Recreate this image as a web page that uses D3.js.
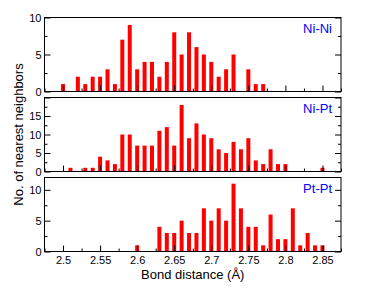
<!DOCTYPE html>
<html>
<head>
<meta charset="utf-8">
<script src="https://cdn.jsdelivr.net/npm/d3@7"></script>
<style>
  body { margin: 0; background: #fff; }
  svg { display: block; font-family: "Liberation Sans", Arial, sans-serif; }
</style>
</head>
<body>
<svg id="chart" width="385" height="298"></svg>
<script>
// bond distance bins (Å)
var bins = [2.50, 2.51, 2.52, 2.53, 2.54, 2.55, 2.56, 2.57, 2.58, 2.59,
            2.60, 2.61, 2.62, 2.63, 2.64, 2.65, 2.66, 2.67, 2.68, 2.69,
            2.70, 2.71, 2.72, 2.73, 2.74, 2.75, 2.76, 2.77, 2.78, 2.79,
            2.80, 2.81, 2.82, 2.83, 2.84, 2.85];

var niNi = [1, 0, 2, 1, 2, 2, 3, 1, 7, 9,
            3, 4, 4, 2, 4, 8, 5, 8, 6, 5,
            4, 2, 3, 5, 0, 3, 1, 1, 0, 0,
            0, 0, 0, 0, 0, 0];

var niPt = [0, 1, 0, 1, 1, 4, 3, 2, 10, 10,
            7, 7, 7, 11, 12, 7, 18, 9, 13, 10,
            9, 6, 5, 8, 6, 9, 3, 2, 6, 2,
            2, 0, 0, 0, 0, 1];

var ptPt = [0, 0, 0, 0, 0, 0, 0, 0, 0, 0,
            1, 0, 0, 4, 3, 3, 5, 3, 3, 7,
            5, 7, 5, 11, 7, 4, 4, 1, 6, 2,
            2, 7, 1, 3, 1, 1];

var panelNames = ['Ni-Ni', 'Ni-Pt', 'Pt-Pt'];
var panelMax = [10, 20, 12];
var yMajor = [[0, 5, 10], [0, 5, 10, 15, 20], [0, 5, 10]];
var yLabels = [[0, 5, 10], [0, 5, 10, 15], [0, 5, 10]];
var yMinor = [[2.5, 7.5], [2.5, 7.5, 12.5, 17.5], [2.5, 7.5]];
var xMajor = [2.5, 2.55, 2.6, 2.65, 2.7, 2.75, 2.8, 2.85];
var xMinor = [2.475, 2.525, 2.575, 2.625, 2.675, 2.725, 2.775, 2.825, 2.875];

var series = [niNi, niPt, ptPt];

var left = 44.5, right = 341;
var tops = [17.5, 97.5, 177.5];
var panelH = 74;

var svg = d3.select('#chart');

var x = d3.scaleLinear()
  .domain([2.475, 2.875])
  .range([left, right]);

series.forEach(function(vals, p) {
  var top = tops[p], bottom = top + panelH;
  var y = d3.scaleLinear().domain([0, panelMax[p]]).range([bottom, top]);
  var g = svg.append('g');

  // bars
  g.selectAll('rect.bar')
    .data(bins.map(function(b, i) { return { d: b, v: vals[i] }; }).filter(function(o) { return o.v > 0; }))
    .enter()
    .append('rect')
    .attr('class', 'bar')
    .attr('x', function(o) { return x(o.d) - 2; })
    .attr('y', function(o) { return y(o.v); })
    .attr('width', 4)
    .attr('height', function(o) { return bottom - y(o.v); })
    .attr('fill', '#ff0000');

  // left axis, ticks pointing in
  g.append('g').attr('transform', 'translate(' + left + ',0)')
    .call(d3.axisLeft(y).tickValues(yMajor[p]).tickSize(-6).tickPadding(3)
      .tickFormat(function(d) { return yLabels[p].indexOf(d) >= 0 ? d : ''; }));
  g.append('g').attr('transform', 'translate(' + left + ',0)')
    .call(d3.axisLeft(y).tickValues(yMinor[p]).tickSize(-3).tickFormat(''));

  // right axis mirror
  g.append('g').attr('transform', 'translate(' + right + ',0)')
    .call(d3.axisRight(y).tickValues(yMajor[p]).tickSize(-6).tickFormat(''));
  g.append('g').attr('transform', 'translate(' + right + ',0)')
    .call(d3.axisRight(y).tickValues(yMinor[p]).tickSize(-3).tickFormat(''));

  // bottom ticks
  g.append('g').attr('transform', 'translate(0,' + bottom + ')')
    .call(d3.axisBottom(x).tickValues(xMajor).tickSize(-6).tickPadding(5)
      .tickFormat(function(d) { return p === 2 ? String(d) : ''; }));
  g.append('g').attr('transform', 'translate(0,' + bottom + ')')
    .call(d3.axisBottom(x).tickValues(xMinor).tickSize(-3).tickFormat(''));

  g.selectAll('.domain').remove();
  g.selectAll('.tick line').attr('stroke', '#000');
  g.selectAll('.tick text').attr('font-size', 11).attr('fill', '#000')
    .style('font-family', '"Liberation Sans", Arial, sans-serif');

  // frame
  g.append('rect')
    .attr('x', left).attr('y', top)
    .attr('width', right - left).attr('height', panelH)
    .attr('fill', 'none').attr('stroke', '#000').attr('stroke-width', 1);

  g.append('text')
    .attr('x', 332).attr('y', top + 15)
    .attr('text-anchor', 'end')
    .attr('font-size', 13)
    .attr('fill', '#0000ff')
    .text(panelNames[p]);
});

svg.append('text')
  .attr('x', (left + right) / 2).attr('y', 279)
  .attr('text-anchor', 'middle')
  .attr('font-size', 13)
  .text('Bond distance (Å)');

svg.append('text')
  .attr('transform', 'translate(23,' + (tops[0] + tops[2] + panelH) / 2 + ') rotate(-90)')
  .attr('text-anchor', 'middle')
  .attr('font-size', 13)
  .text('No. of nearest neighbors');
</script>
</body>
</html>
